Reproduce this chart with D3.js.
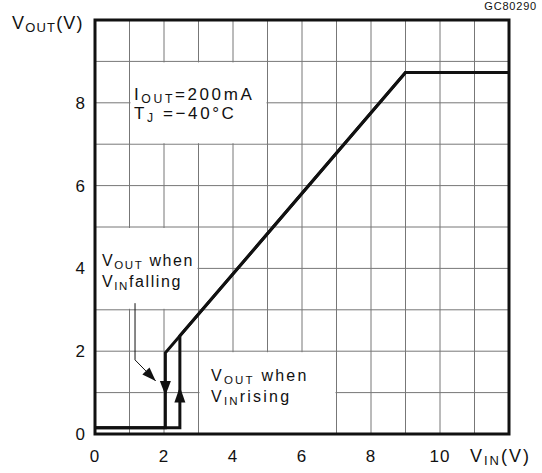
<!DOCTYPE html>
<html>
<head>
<meta charset="utf-8">
<script src="https://cdn.jsdelivr.net/npm/d3@7"></script>
<style>
    body { margin: 0; background: #fff; }
    text { font-family: "Liberation Sans", Arial, sans-serif; fill: #111; }
</style>
</head>
<body>
<div id="chart"></div>
<script>
// tick labels
var xTicks = [0, 2, 4, 6, 8, 10];
var yTicks = [0, 2, 4, 6, 8];

// vout vs vin, two branches of the hysteresis
var fallingCurve = [[0, 0.15], [2.04, 0.15], [2.04, 1.96], [9.0, 8.73], [12, 8.73]];
var risingCurve = [[0, 0.15], [2.46, 0.15], [2.46, 2.37], [9.0, 8.73], [12, 8.73]];

// direction arrows on the vertical steps: [x, base, tip]
var stepArrows = [[2.04, 1.28, 0.93], [2.46, 0.76, 1.14]];

// leader from the "falling" label to the step
var leader = [[1.16, 3.16], [1.16, 1.79], [1.76, 1.28]];

// cells left blank behind the labels: [x0, x1, y0, y1]
var blankCells = [[1, 5, 7, 9], [0, 3, 3, 5], [3, 7, 0, 2]];

var W = 542, H = 473;
var svg = d3.select("#chart").append("svg").attr("width", W).attr("height", H);

var x = d3.scaleLinear().domain([0, 12]).range([95, 509]);
var y = d3.scaleLinear().domain([0, 10]).range([434, 20]);

//grid every 1 V
var grid = svg.append("g").attr("stroke", "#777").attr("stroke-width", 1);
grid.selectAll(".gx").data(d3.range(1, 12)).join("line")
    .attr("x1", d => x(d)).attr("x2", d => x(d))
    .attr("y1", y(0)).attr("y2", y(10));
grid.selectAll(".gy").data(d3.range(1, 10)).join("line")
    .attr("x1", x(0)).attr("x2", x(12))
    .attr("y1", d => y(d)).attr("y2", d => y(d));

//white boxes behind the notes
svg.selectAll(".blank").data(blankCells).join("rect")
    .attr("x", d => x(d[0]) + 1)
    .attr("y", d => y(d[3]) + 1)
    .attr("width", d => x(d[1]) - x(d[0]) - 2)
    .attr("height", d => y(d[2]) - y(d[3]) - 2)
    .attr("fill", "#fff");

//frame
svg.append("rect")
    .attr("x", x(0)).attr("y", y(10))
    .attr("width", x(12) - x(0)).attr("height", y(0) - y(10))
    .attr("fill", "none").attr("stroke", "#111").attr("stroke-width", 3);

var line = d3.line().x(d => x(d[0])).y(d => y(d[1]));

[fallingCurve, risingCurve].forEach(function (c) {
    svg.append("path").attr("d", line(c))
        .attr("fill", "none").attr("stroke", "#111")
        .attr("stroke-width", 3).attr("stroke-linejoin", "miter");
});

//arrow heads on the steps
stepArrows.forEach(function (a) {
    var cx = x(a[0]), yb = y(a[1]), yt = y(a[2]);
    svg.append("path")
        .attr("d", "M" + (cx - 5.5) + "," + yb + "L" + (cx + 5.5) + "," + yb + "L" + cx + "," + yt + "Z")
        .attr("fill", "#111");
});

//leader line + head
svg.append("path").attr("d", line(leader))
    .attr("fill", "none").attr("stroke", "#111").attr("stroke-width", 1);
var p1 = leader[1], p2 = leader[2];
var ang = Math.atan2(y(p2[1]) - y(p1[1]), x(p2[0]) - x(p1[0]));
var tx = x(p2[0]), ty = y(p2[1]), L = 14, hw = 5;
var bx = tx - L * Math.cos(ang), by = ty - L * Math.sin(ang);
svg.append("path")
    .attr("d", "M" + tx + "," + ty +
        "L" + (bx - hw * Math.sin(ang)) + "," + (by + hw * Math.cos(ang)) +
        "L" + (bx + hw * Math.sin(ang)) + "," + (by - hw * Math.cos(ang)) + "Z")
    .attr("fill", "#111");

//tick labels
svg.selectAll(".xt").data(xTicks).join("text")
    .attr("x", d => x(d)).attr("y", 462)
    .attr("text-anchor", "middle").attr("font-size", 17)
    .attr("letter-spacing", 1)
    .text(d => d);
svg.selectAll(".yt").data(yTicks).join("text")
    .attr("x", 85).attr("y", d => y(d) + 6)
    .attr("text-anchor", "end").attr("font-size", 17)
    .text(d => d);

//text with subscript
function subText(px, py, size, ls, parts) {
    var t = svg.append("text").attr("x", px).attr("y", py)
        .attr("font-size", size).attr("letter-spacing", ls);
    parts.forEach(function (p) {
        var s = t.append("tspan").text(p[0]);
        if (p[1]) s.attr("font-size", size * 0.72).attr("dy", 3);
        else if (p[2]) s.attr("dy", -3);
    });
    return t;
}

subText(12, 29, 18, 1.2, [["V"], ["OUT", true], ["(V)", false, true]]);
subText(470, 462, 18, 2, [["V"], ["IN", true], ["(V)", false, true]]);
svg.append("text").attr("x", 537).attr("y", 10).attr("text-anchor", "end")
    .attr("font-size", 11).attr("letter-spacing", 0.8).text("GC80290");

subText(134, 100, 17, 2.6, [["I"], ["OUT", true], ["=200mA", false, true]]);
subText(134, 119, 17, 2.6, [["T"], ["J", true], [" =\u221240\u00b0C", false, true]]);

subText(102, 266, 16, 1.6, [["V"], ["OUT", true], [" when", false, true]]);
subText(102, 287, 16, 1.6, [["V"], ["IN", true], ["falling", false, true]]);

subText(211, 381, 16, 2.2, [["V"], ["OUT", true], [" when", false, true]]);
subText(211, 402, 16, 2.2, [["V"], ["IN", true], ["rising", false, true]]);
</script>
</body>
</html>
